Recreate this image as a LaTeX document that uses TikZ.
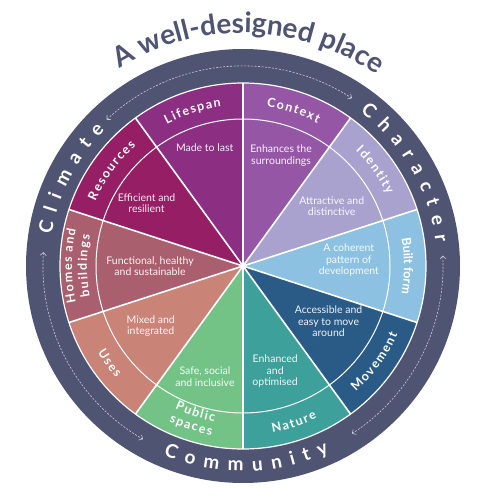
\documentclass[tikz,border=0pt]{standalone}
\usepackage{fontspec}
\setmainfont{Lato}
\usetikzlibrary{arrows.meta,decorations.text}

\definecolor{ringblue}{HTML}{4F5473}
\definecolor{lifespanc}{HTML}{8C2E82}
\definecolor{contextc}{HTML}{9656A6}
\definecolor{identityc}{HTML}{A9A1CE}
\definecolor{builtc}{HTML}{8CC1E2}
\definecolor{movementc}{HTML}{2A5B87}
\definecolor{naturec}{HTML}{3DA09B}
\definecolor{publicc}{HTML}{73C387}
\definecolor{usesc}{HTML}{C98377}
\definecolor{homesc}{HTML}{AA5F6F}
\definecolor{resourcesc}{HTML}{961E65}

\newcommand{\titlefont}{\fontsize{28}{28}\selectfont\bfseries}
\newcommand{\ringfont}{\fontsize{19}{19}\selectfont\bfseries}
\newcommand{\bandfont}{\fontsize{12.5}{12.5}\selectfont\bfseries}
\newcommand{\ringgap}{\kern9pt}
\newcommand{\bandgap}{\kern1.5pt}

\begin{document}
\begin{tikzpicture}[x=1pt,y=1pt,
  spoke/.style={white,line width=1.6pt},
  flow/.style={>={Straight Barb[length=3pt,width=6pt]},<->,dash pattern=on 2pt off 1.5pt,
    white!70!ringblue,line width=0.6pt},
  along/.style={decorate,decoration={text along path,text align=center,text color=white,text={#1}}},
  headline/.style={decorate,decoration={text along path,text align=center,text color=ringblue,text={#1}}},
  inner/.style={text=white,text opacity=0.92,align=center,font=\fontsize{10.5}{11.5}\selectfont}]

  \useasboundingbox (-243,-234) rectangle (257,266);

  % outer ring
  \fill[ringblue] (0,0) circle[radius=217];

  % segments
  \foreach \a/\c in {90/lifespanc,54/contextc,18/identityc,-18/builtc,-54/movementc,
      -90/naturec,-126/publicc,-162/usesc,162/homesc,126/resourcesc}
    \fill[\c] (0,0) -- (\a:183) arc[start angle=\a,delta angle=36,radius=183] -- cycle;

  \coordinate (hub) at (0,0);
  \foreach \a in {18,54,...,342}
    \draw[spoke] (hub) -- (\a:183);
  \draw[white,line width=1pt] (hub) circle[radius=147];
  \draw[white,line width=1.2pt] (hub) circle[radius=183];

  % title
  \path[headline={|\titlefont|A well-designed place}] (170:233) arc[start angle=170,end angle=7,radius=233];

  % ring words
  \path[along={|\ringfont|{C\ringgap}{l\ringgap}{i\ringgap}{m\ringgap}{a\ringgap}{t\ringgap}{e}}]
    (213:194) arc[start angle=213,end angle=93,radius=194];
  \path[along={|\ringfont|{C\ringgap}{h\ringgap}{a\ringgap}{r\ringgap}{a\ringgap}{c\ringgap}{t\ringgap}{e\ringgap}{r}}]
    (90:194) arc[start angle=90,end angle=-30,radius=194];
  \path[along={|\ringfont|{C\ringgap}{o\ringgap}{m\ringgap}{m\ringgap}{u\ringgap}{n\ringgap}{i\ringgap}{t\ringgap}{y}}]
    (-149:205) arc[start angle=-149,end angle=-29,radius=205];

  % dashed links in the ring
  \coordinate (climate-a) at (133:200);
  \coordinate (character-a) at (3:200);
  \coordinate (community-a) at (176:200);
  \draw[flow] (climate-a) arc[start angle=133,end angle=57,radius=200];
  \draw[flow] (character-a) arc[start angle=3,end angle=-57,radius=200];
  \draw[flow] (community-a) arc[start angle=176,end angle=240,radius=200];

  % band labels, upper half
  \path[along={|\bandfont|{L\bandgap}{i\bandgap}{f\bandgap}{e\bandgap}{s\bandgap}{p\bandgap}{a\bandgap}{n}}]
    (158:161) arc[start angle=158,end angle=58,radius=161];
  \path[along={|\bandfont|{C\bandgap}{o\bandgap}{n\bandgap}{t\bandgap}{e\bandgap}{x\bandgap}{t}}]
    (122:161) arc[start angle=122,end angle=22,radius=161];
  \path[along={|\bandfont|{I\bandgap}{d\bandgap}{e\bandgap}{n\bandgap}{t\bandgap}{i\bandgap}{t\bandgap}{y}}]
    (86:161) arc[start angle=86,end angle=-14,radius=161];
  \path[along={|\bandfont|Built form}]
    (50:161) arc[start angle=50,end angle=-50,radius=161];
  \path[along={|\bandfont|{R\bandgap}{e\bandgap}{s\bandgap}{o\bandgap}{u\bandgap}{r\bandgap}{c\bandgap}{e\bandgap}{s}}]
    (194:161) arc[start angle=194,end angle=94,radius=161];
  \path[along={|\bandfont|{H\bandgap}{o\bandgap}{m\bandgap}{e\bandgap}{s\bandgap} {a\bandgap}{n\bandgap}{d}}]
    (230:171) arc[start angle=230,end angle=130,radius=171];
  \path[along={|\bandfont|{b\bandgap}{u\bandgap}{i\bandgap}{l\bandgap}{d\bandgap}{i\bandgap}{n\bandgap}{g\bandgap}{s}}]
    (230:156) arc[start angle=230,end angle=130,radius=156];

  % band labels, lower half
  \path[along={|\bandfont|{M\bandgap}{o\bandgap}{v\bandgap}{e\bandgap}{m\bandgap}{e\bandgap}{n\bandgap}{t}}]
    (-86:169) arc[start angle=-86,end angle=14,radius=169];
  \path[along={|\bandfont|{N\bandgap}{a\bandgap}{t\bandgap}{u\bandgap}{r\bandgap}{e}}]
    (-122:169) arc[start angle=-122,end angle=-22,radius=169];
  \path[along={|\bandfont|{P\bandgap}{u\bandgap}{b\bandgap}{l\bandgap}{i\bandgap}{c}}]
    (-158:158) arc[start angle=-158,end angle=-58,radius=158];
  \path[along={|\bandfont|{s\bandgap}{p\bandgap}{a\bandgap}{c\bandgap}{e\bandgap}{s}}]
    (-158:172) arc[start angle=-158,end angle=-58,radius=172];
  \path[along={|\bandfont|{U\bandgap}{s\bandgap}{e\bandgap}{s}}]
    (-194:169) arc[start angle=-194,end angle=-94,radius=169];

  % inner texts
  \node[inner] (made) at (108:124) {Made to last};
  \node[inner] (enhances) at (71:117) {Enhances the\\surroundings};
  \node[inner] (attractive) at (34:107) {Attractive and\\distinctive};
  \node[inner] (coherent) at (3:106) {A coherent\\pattern of\\development};
  \node[inner] (accessible) at (-33:102) {Accessible and\\easy to move\\around};
  \node[inner] (optimised) at (-73:110) {Enhanced\\and\\optimised};
  \node[inner] (safe) at (-109:117) {Safe, social\\and inclusive};
  \node[inner] (mixed) at (-147:110) {Mixed and\\integrated};
  \node[inner] (functional) at (180:93) {Functional, healthy\\and sustainable};
  \node[inner] (efficient) at (147:115) {Efficient and\\resilient};
\end{tikzpicture}
\end{document}
